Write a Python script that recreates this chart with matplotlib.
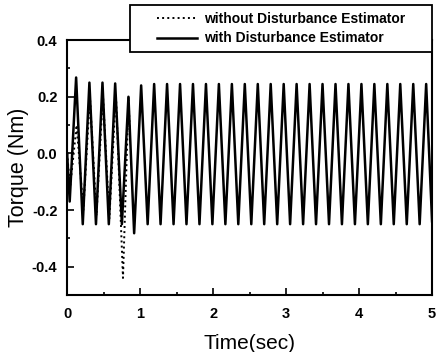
import matplotlib
matplotlib.use('Agg')
import matplotlib.pyplot as plt
from matplotlib.ticker import MultipleLocator, FormatStrFormatter
from matplotlib.patches import Rectangle

plt.rcParams['font.family'] = ['Liberation Sans', 'DejaVu Sans']
plt.rcParams['axes.unicode_minus'] = False

# extrema (time in s, torque in Nm)
t_with = [0.0, 0.035, 0.123, 0.214, 0.305, 0.395, 0.484, 0.571, 0.658, 0.75,
          0.84, 0.918, 1.014, 1.103, 1.192, 1.280, 1.369, 1.458, 1.547, 1.635,
          1.724, 1.813, 1.902, 1.990, 2.079, 2.168, 2.257, 2.345, 2.434, 2.523,
          2.612, 2.700, 2.789, 2.878, 2.967, 3.055, 3.144, 3.233, 3.322, 3.410,
          3.499, 3.588, 3.677, 3.765, 3.854, 3.943, 4.032, 4.120, 4.209, 4.298,
          4.387, 4.475, 4.564, 4.653, 4.742, 4.830, 4.919, 5.0]
tq_with = [0.0, -0.17, 0.268, -0.25, 0.25, -0.25, 0.25, -0.25, 0.247, -0.25,
           0.20, -0.282, 0.24, -0.25, 0.245, -0.25, 0.245, -0.25, 0.245, -0.25,
           0.245, -0.25, 0.245, -0.25, 0.245, -0.25, 0.245, -0.25, 0.245, -0.25,
           0.245, -0.25, 0.245, -0.25, 0.245, -0.25, 0.245, -0.25, 0.245, -0.25,
           0.245, -0.25, 0.245, -0.25, 0.245, -0.25, 0.245, -0.25, 0.245, -0.25,
           0.245, -0.25, 0.245, -0.25, 0.245, -0.25, 0.245, -0.24]

t_without = [0.0, 0.04, 0.13, 0.222, 0.312, 0.402, 0.49, 0.578, 0.668, 0.765,
             0.842, 0.86]
tq_without = [0.0, -0.12, 0.10, -0.20, 0.20, -0.22, 0.21, -0.23, 0.21, -0.44,
              0.20, 0.05]

fig = plt.figure(figsize=(4.36, 3.52), dpi=100)
ax = fig.add_axes([0.154, 0.162, 0.837, 0.724])

ax.plot(t_without, tq_without, color='black', linestyle=':', linewidth=1.4,
        label='without Disturbance Estimator')
ax.plot(t_with, tq_with, color='black', linestyle='-', linewidth=1.8,
        label='with Disturbance Estimator')

ax.set_xlim(0, 5)
ax.set_ylim(-0.5, 0.4)
ax.xaxis.set_major_locator(MultipleLocator(1))
ax.xaxis.set_minor_locator(MultipleLocator(0.5))
ax.yaxis.set_major_locator(MultipleLocator(0.2))
ax.yaxis.set_minor_locator(MultipleLocator(0.1))
ax.yaxis.set_major_formatter(FormatStrFormatter('%.1f'))
ax.tick_params(which='both', direction='in', width=1.2)
ax.tick_params(which='major', length=5, labelsize=10.5)
ax.tick_params(axis='x', which='major', pad=9)
ax.tick_params(axis='y', which='major', pad=7)
ax.tick_params(which='minor', length=2.5)
for lab in ax.get_xticklabels() + ax.get_yticklabels():
    lab.set_fontweight('bold')
for sp in ax.spines.values():
    sp.set_linewidth(1.5)

ax.set_xlabel('Time(sec)', fontsize=15, labelpad=9)
ax.set_ylabel('Torque (Nm)', fontsize=15.5, labelpad=2)

# legend box sits partly above the axes
box = Rectangle((0.173, 0.953), 0.827, 0.184, transform=ax.transAxes,
                facecolor='white', edgecolor='black', linewidth=1.3,
                clip_on=False, zorder=4)
ax.add_patch(box)
leg = ax.legend(loc='center', bbox_to_anchor=(0.586, 1.045), frameon=False,
                prop={'size': 10, 'weight': 'bold'}, handlelength=2.9,
                handletextpad=0.45, labelspacing=0.4, borderpad=0,
                borderaxespad=0)
leg.set_zorder(5)

fig.savefig('out.png', dpi=100)
